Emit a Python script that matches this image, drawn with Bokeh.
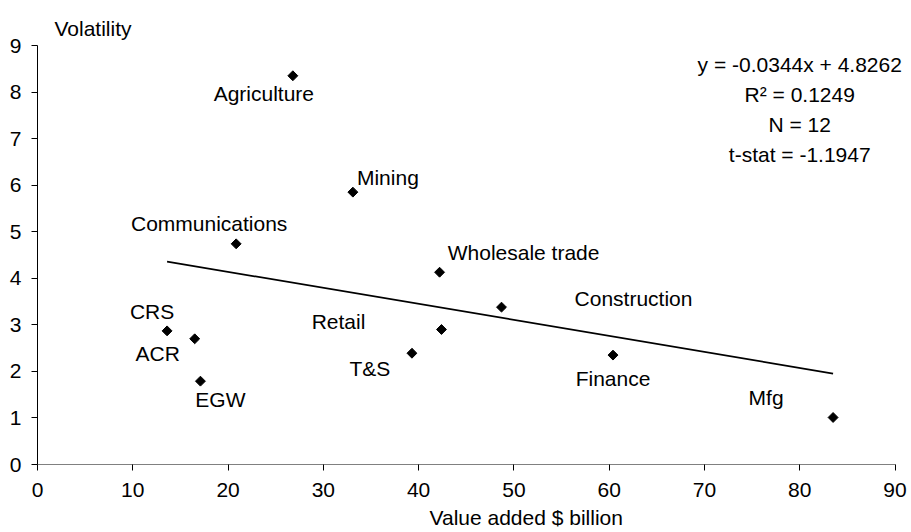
import math
from bokeh.plotting import figure
from bokeh.models import ColumnDataSource, FixedTicker, Title
from bokeh.core.properties import value
from bokeh.embed import file_html
from bokeh.resources import INLINE

# ---- data ----
sectors = ["Agriculture", "Mining", "Communications", "Wholesale trade", "Construction",
           "Retail", "T&S", "Finance", "CRS", "ACR", "EGW", "Mfg"]
value_added = [26.8, 33.1, 20.85, 42.2, 48.7, 42.4, 39.3, 60.4, 13.6, 16.5, 17.1, 83.5]
volatility = [8.35, 5.85, 4.74, 4.13, 3.38, 2.90, 2.39, 2.35, 2.87, 2.70, 1.79, 1.01]

slope = -0.0344
intercept = 4.8262
stats_lines = ["y = -0.0344x + 4.8262", "R\u00b2 = 0.1249", "N = 12", "t-stat = -1.1947"]

x_ticks = [0, 10, 20, 30, 40, 50, 60, 70, 80, 90]
y_ticks = [0, 1, 2, 3, 4, 5, 6, 7, 8, 9]
x_title = "Value added $ billion"
y_title = "Volatility"

# ---- label placement (pixel offsets, screen down positive) ----
label_dx = [-29, 35, -27, 84, 132, -103, -42, 0, -15, -37, 20, -67]
label_dy = [18, -15, -20, -20, -9, -8, 15, 23, -19, 15, 18, -20]
stats_dy = [19, 49, 79, 109]

FONT = "Liberation Sans"
FS = "21px"

# frame runs slightly past 90 so the statistics text is not clipped;
# the axis itself is bounded to 0..90
p = figure(frame_width=868, frame_height=419, x_range=(0, 91.1), y_range=(0, 9),
           output_backend="svg", toolbar_location=None,
           min_border_left=37, min_border_right=5, min_border_top=45, min_border_bottom=67)
p.outline_line_color = None
p.xgrid.grid_line_color = None
p.ygrid.grid_line_color = None
p.background_fill_color = "white"
p.border_fill_color = "white"

for ax in (p.xaxis[0], p.yaxis[0]):
    ax.major_label_text_font = FONT
    ax.major_label_text_font_size = FS
    ax.major_label_text_color = "black"
    ax.minor_tick_line_color = None
    ax.major_tick_in = 0
    ax.major_tick_out = 6
    ax.major_tick_line_color = "black"

p.xaxis.ticker = FixedTicker(ticks=x_ticks)
p.yaxis.ticker = FixedTicker(ticks=y_ticks)
p.xaxis.bounds = (x_ticks[0], x_ticks[-1])
p.xaxis.axis_line_color = "#808080"
p.yaxis.axis_line_color = "black"
p.xaxis.major_label_standoff = 12
p.yaxis.major_label_standoff = 10

# trend line
tx = [min(value_added), max(value_added)]
ty = [slope * v + intercept for v in tx]
p.line(tx, ty, line_color="black", line_width=1.7)

# points
src = ColumnDataSource(dict(x=value_added, y=volatility, name=sectors, dx=label_dx, dy=label_dy))
p.scatter("x", "y", source=src, marker="square", angle=math.pi / 4, size=7,
          fill_color="black", line_color="black")

# point labels
p.text("x", "y", text="name", source=src, x_offset="dx", y_offset="dy",
       text_font=value(FONT), text_font_size=FS, text_color="black",
       text_align="center", text_baseline="middle")

# statistics block
stat_src = ColumnDataSource(dict(x=[80] * len(stats_lines), y=[9] * len(stats_lines),
                                 t=stats_lines, off=stats_dy))
p.text("x", "y", text="t", source=stat_src, y_offset="off",
       text_font=value(FONT), text_font_size=FS, text_color="black",
       text_align="center", text_baseline="middle")

# axis titles (as titles so they are not clipped by the frame)
p.title.text = y_title
p.title.align = "left"
p.title.offset = 17
p.title.standoff = 11
p.title.text_font = FONT
p.title.text_font_size = FS
p.title.text_font_style = "normal"
p.title.text_color = "black"

xt = Title(text=x_title, align="left", offset=392, standoff=9,
           text_font=FONT, text_font_size=FS, text_font_style="normal", text_color="black")
p.add_layout(xt, "below")

open("out.html", "w").write(file_html(p, INLINE))
